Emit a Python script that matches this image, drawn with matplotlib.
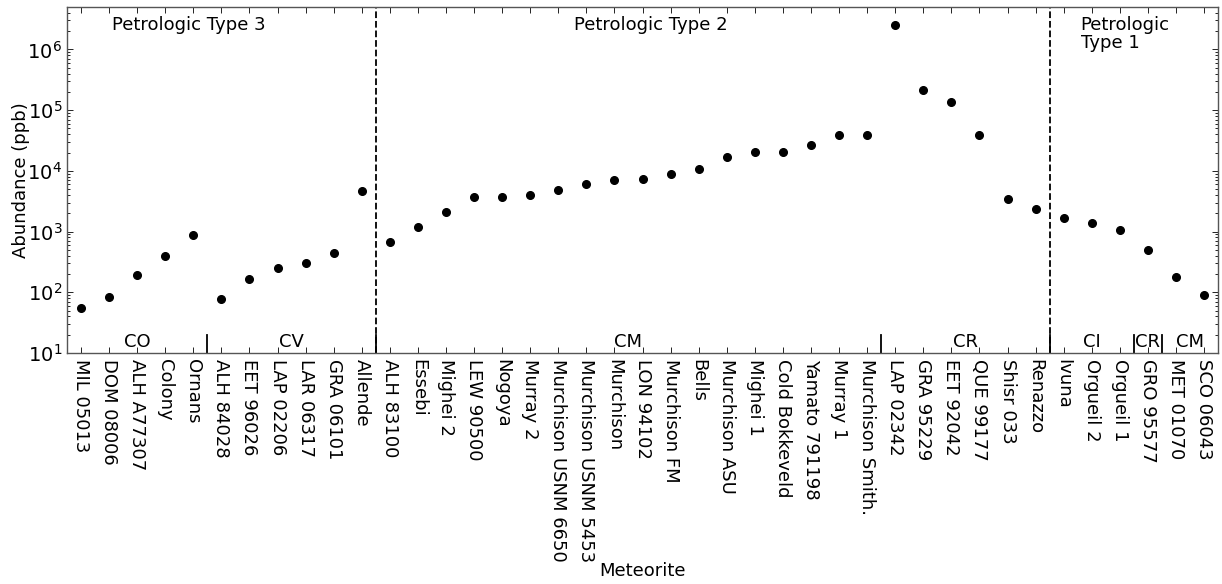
import numpy as np
import matplotlib.pyplot as plt
from matplotlib.ticker import LogLocator, NullFormatter

# meteorites in plotting order and measured abundance (ppb)
meteorites = ['MIL 05013', 'DOM 08006', 'ALH A77307', 'Colony', 'Ornans',
              'ALH 84028', 'EET 96026', 'LAP 02206', 'LAR 06317', 'GRA 06101', 'Allende',
              'ALH 83100', 'Essebi', 'Mighei 2', 'LEW 90500', 'Nogoya', 'Murray 2',
              'Murchison USNM 6650', 'Murchison USNM 5453', 'Murchison', 'LON 94102',
              'Murchison FM', 'Bells', 'Murchison ASU', 'Mighei 1', 'Cold Bokkeveld',
              'Yamato 791198', 'Murray 1', 'Murchison Smith.',
              'LAP 02342', 'GRA 95229', 'EET 92042', 'QUE 99177', 'Shisr 033', 'Renazzo',
              'Ivuna', 'Orgueil 2', 'Orgueil 1', 'GRO 95577', 'MET 01070', 'SCO 06043']
abundance = [56, 83, 196, 401, 889,
             78, 164, 252, 300, 440, 4610,
             667, 1190, 2130, 3670, 3760, 4010, 4900, 6160, 7000, 7360,
             8800, 10700, 17100, 20200, 20700, 26700, 39500, 39000,
             2540000, 215000, 136000, 38600, 3400, 2350,
             1660, 1370, 1050, 504, 177, 90]

# chondrite groups (name, number of meteorites) along the x axis
group_names = ['CO', 'CV', 'CM', 'CR', 'CI', 'CR', 'CM']
group_sizes = [5, 6, 18, 6, 3, 1, 2]

# petrologic types (number of meteorites in each block)
type_sizes = [11, 24, 6]

x = np.arange(len(meteorites))

fig = plt.figure(figsize=(12.22, 5.84), dpi=100)
ax = fig.add_axes([0.0548, 0.3955, 0.942, 0.5925])

ax.plot(x, abundance, 'ko', ms=5.5, zorder=3)
ax.set_yscale('log')
ax.set_ylim(10, 5e6)
ax.set_xlim(-0.5, len(meteorites) - 0.5)

# dashed lines between petrologic types
for b in np.cumsum(type_sizes)[:-1]:
    ax.axvline(b - 0.5, color='k', ls='--', lw=1.3)

# short dividers and labels for the chondrite groups
edges = np.concatenate([[0], np.cumsum(group_sizes)])
for i, name in enumerate(group_names):
    if i > 0:
        ax.axvline(edges[i] - 0.5, ymax=0.052, color='k', lw=1.3)
    mid = (edges[i] + edges[i + 1] - 1) / 2.0
    ax.text(mid, 0.031, name, transform=ax.get_xaxis_transform(),
            ha='center', va='center', fontsize=13)

ax.text(3.85, 0.975, 'Petrologic Type 3', transform=ax.get_xaxis_transform(),
        ha='center', va='top', fontsize=13)
ax.text(20.3, 0.975, 'Petrologic Type 2', transform=ax.get_xaxis_transform(),
        ha='center', va='top', fontsize=13)
ax.text(35.6, 0.975, 'Petrologic\nType 1', transform=ax.get_xaxis_transform(),
        ha='left', va='top', fontsize=13, linespacing=1.0)

ax.set_xticks(x)
ax.set_xticklabels(meteorites, rotation=270, fontsize=13)
ax.yaxis.set_major_locator(LogLocator(base=10, numticks=10))
ax.yaxis.set_minor_locator(LogLocator(base=10, subs=np.arange(2, 10), numticks=20))
ax.yaxis.set_minor_formatter(NullFormatter())
ax.tick_params(axis='both', which='both', direction='in', top=True, right=True)
ax.tick_params(axis='both', which='major', length=4, width=0.6)
ax.tick_params(axis='both', which='minor', length=2, width=0.6)
ax.tick_params(axis='y', labelsize=14)
ax.tick_params(axis='x', pad=4)
for s in ax.spines.values():
    s.set_color('#555555')
    s.set_linewidth(1.0)

ax.set_xlabel('Meteorite', fontsize=13, labelpad=0)
ax.set_ylabel('Abundance (ppb)', fontsize=13, labelpad=-2)

fig.savefig('out.png', dpi=100)
